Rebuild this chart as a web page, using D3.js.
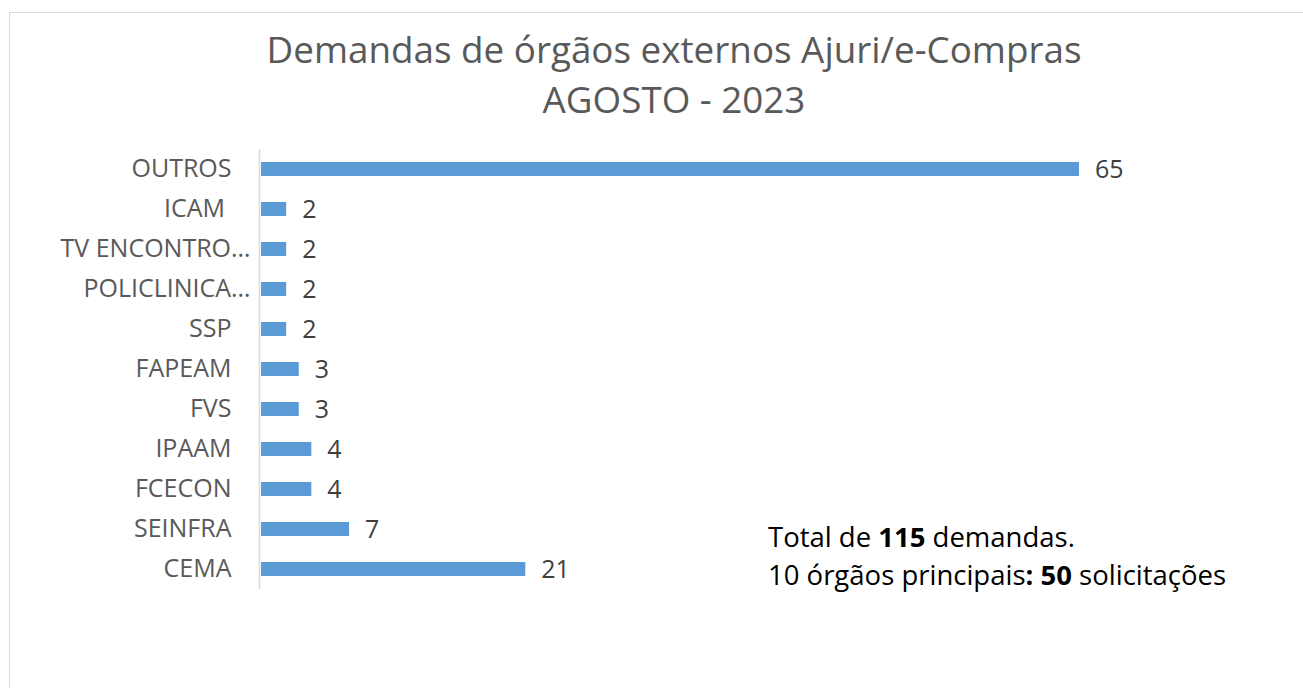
<!DOCTYPE html>
<html>
<head>
<meta charset="utf-8">
<script src="https://cdn.jsdelivr.net/npm/d3@7"></script>
<style>
	body { margin: 0; background: #fff; }
	svg text { font-family: "Open Sans", sans-serif; }
</style>
</head>
<body>
<div id="chart"></div>
<script>
var width = 1303,
	height = 688;

// data, top to bottom as shown
var categories = ['OUTROS', 'ICAM ', 'TV ENCONTRO…', 'POLICLINICA…', 'SSP', 'FAPEAM', 'FVS', 'IPAAM', 'FCECON', 'SEINFRA', 'CEMA'];
var values = [65, 2, 2, 2, 2, 3, 3, 4, 4, 7, 21];
var titleLines = ['Demandas de órgãos externos Ajuri/e-Compras', 'AGOSTO - 2023'];
var noteLines = [
	[['Total de ', false], ['115', true], [' demandas.', false]],
	[['10 órgãos principais', false], [': 50', true], [' solicitações', false]]
];

var rows = categories.map(function(c, i) { return { name: c, value: values[i] }; });

var svg = d3.select('#chart').append('svg')
	.attr('width', width)
	.attr('height', height);

// chart frame
svg.append('rect')
	.attr('x', 9.5)
	.attr('y', 12.5)
	.attr('width', width + 20)
	.attr('height', height + 20)
	.style('fill', '#fff')
	.style('stroke', '#d9d9d9')
	.style('stroke-width', 1);

var margin = { left: 260, top: 149, bottom: 589 };

var x = d3.scaleLinear()
	.domain([0, 65])
	.range([margin.left + 1, 1079]);

var y = d3.scaleBand()
	.domain(categories)
	.range([margin.top, margin.bottom])
	.paddingInner(0.65)
	.paddingOuter(0.325);

// title
svg.append('g')
	.selectAll('text')
	.data(titleLines)
	.enter()
	.append('text')
	.attr('x', 674)
	.attr('y', function(d, i) { return 63 + i * 50; })
	.attr('text-anchor', 'middle')
	.style('font-size', '36.8px')
	.style('fill', '#595959')
	.text(function(d) { return d; });

// y axis
var yAxis = svg.append('g')
	.attr('transform', 'translate(' + (margin.left - 0.5) + ',0)')
	.call(d3.axisLeft(y).tickSize(0).tickPadding(28));

yAxis.select('.domain')
	.attr('d', 'M0,' + margin.top + 'V' + margin.bottom)
	.style('stroke', '#d9d9d9')
	.style('stroke-width', 1.5);

yAxis.selectAll('.tick text')
	.style('font-size', '25px')
	.style('fill', '#595959')
	.style('white-space', 'pre')
	.attr('dx', function(d) { return d.slice(-1) === '…' ? 19 : 0; });

// bars
svg.append('g')
	.selectAll('rect')
	.data(rows)
	.enter()
	.append('rect')
	.attr('x', x(0))
	.attr('y', function(d) { return y(d.name); })
	.attr('width', function(d) { return x(d.value) - x(0); })
	.attr('height', y.bandwidth())
	.style('fill', '#5b9bd5');

// value labels
svg.append('g')
	.selectAll('text')
	.data(rows)
	.enter()
	.append('text')
	.attr('x', function(d) { return x(d.value) + 16; })
	.attr('y', function(d) { return y(d.name) + y.bandwidth() / 2; })
	.attr('dy', '0.35em')
	.style('font-size', '25px')
	.style('fill', '#404040')
	.text(function(d) { return d.value; });

// note
var note = svg.append('g');
note.selectAll('text')
	.data(noteLines)
	.enter()
	.append('text')
	.attr('x', 768)
	.attr('y', function(d, i) { return 547 + i * 38; })
	.style('font-size', '27.5px')
	.style('fill', '#000')
	.style('white-space', 'pre')
	.selectAll('tspan')
	.data(function(d) { return d; })
	.enter()
	.append('tspan')
	.style('font-weight', function(d) { return d[1] ? 'bold' : 'normal'; })
	.text(function(d) { return d[0]; });
</script>
</body>
</html>
